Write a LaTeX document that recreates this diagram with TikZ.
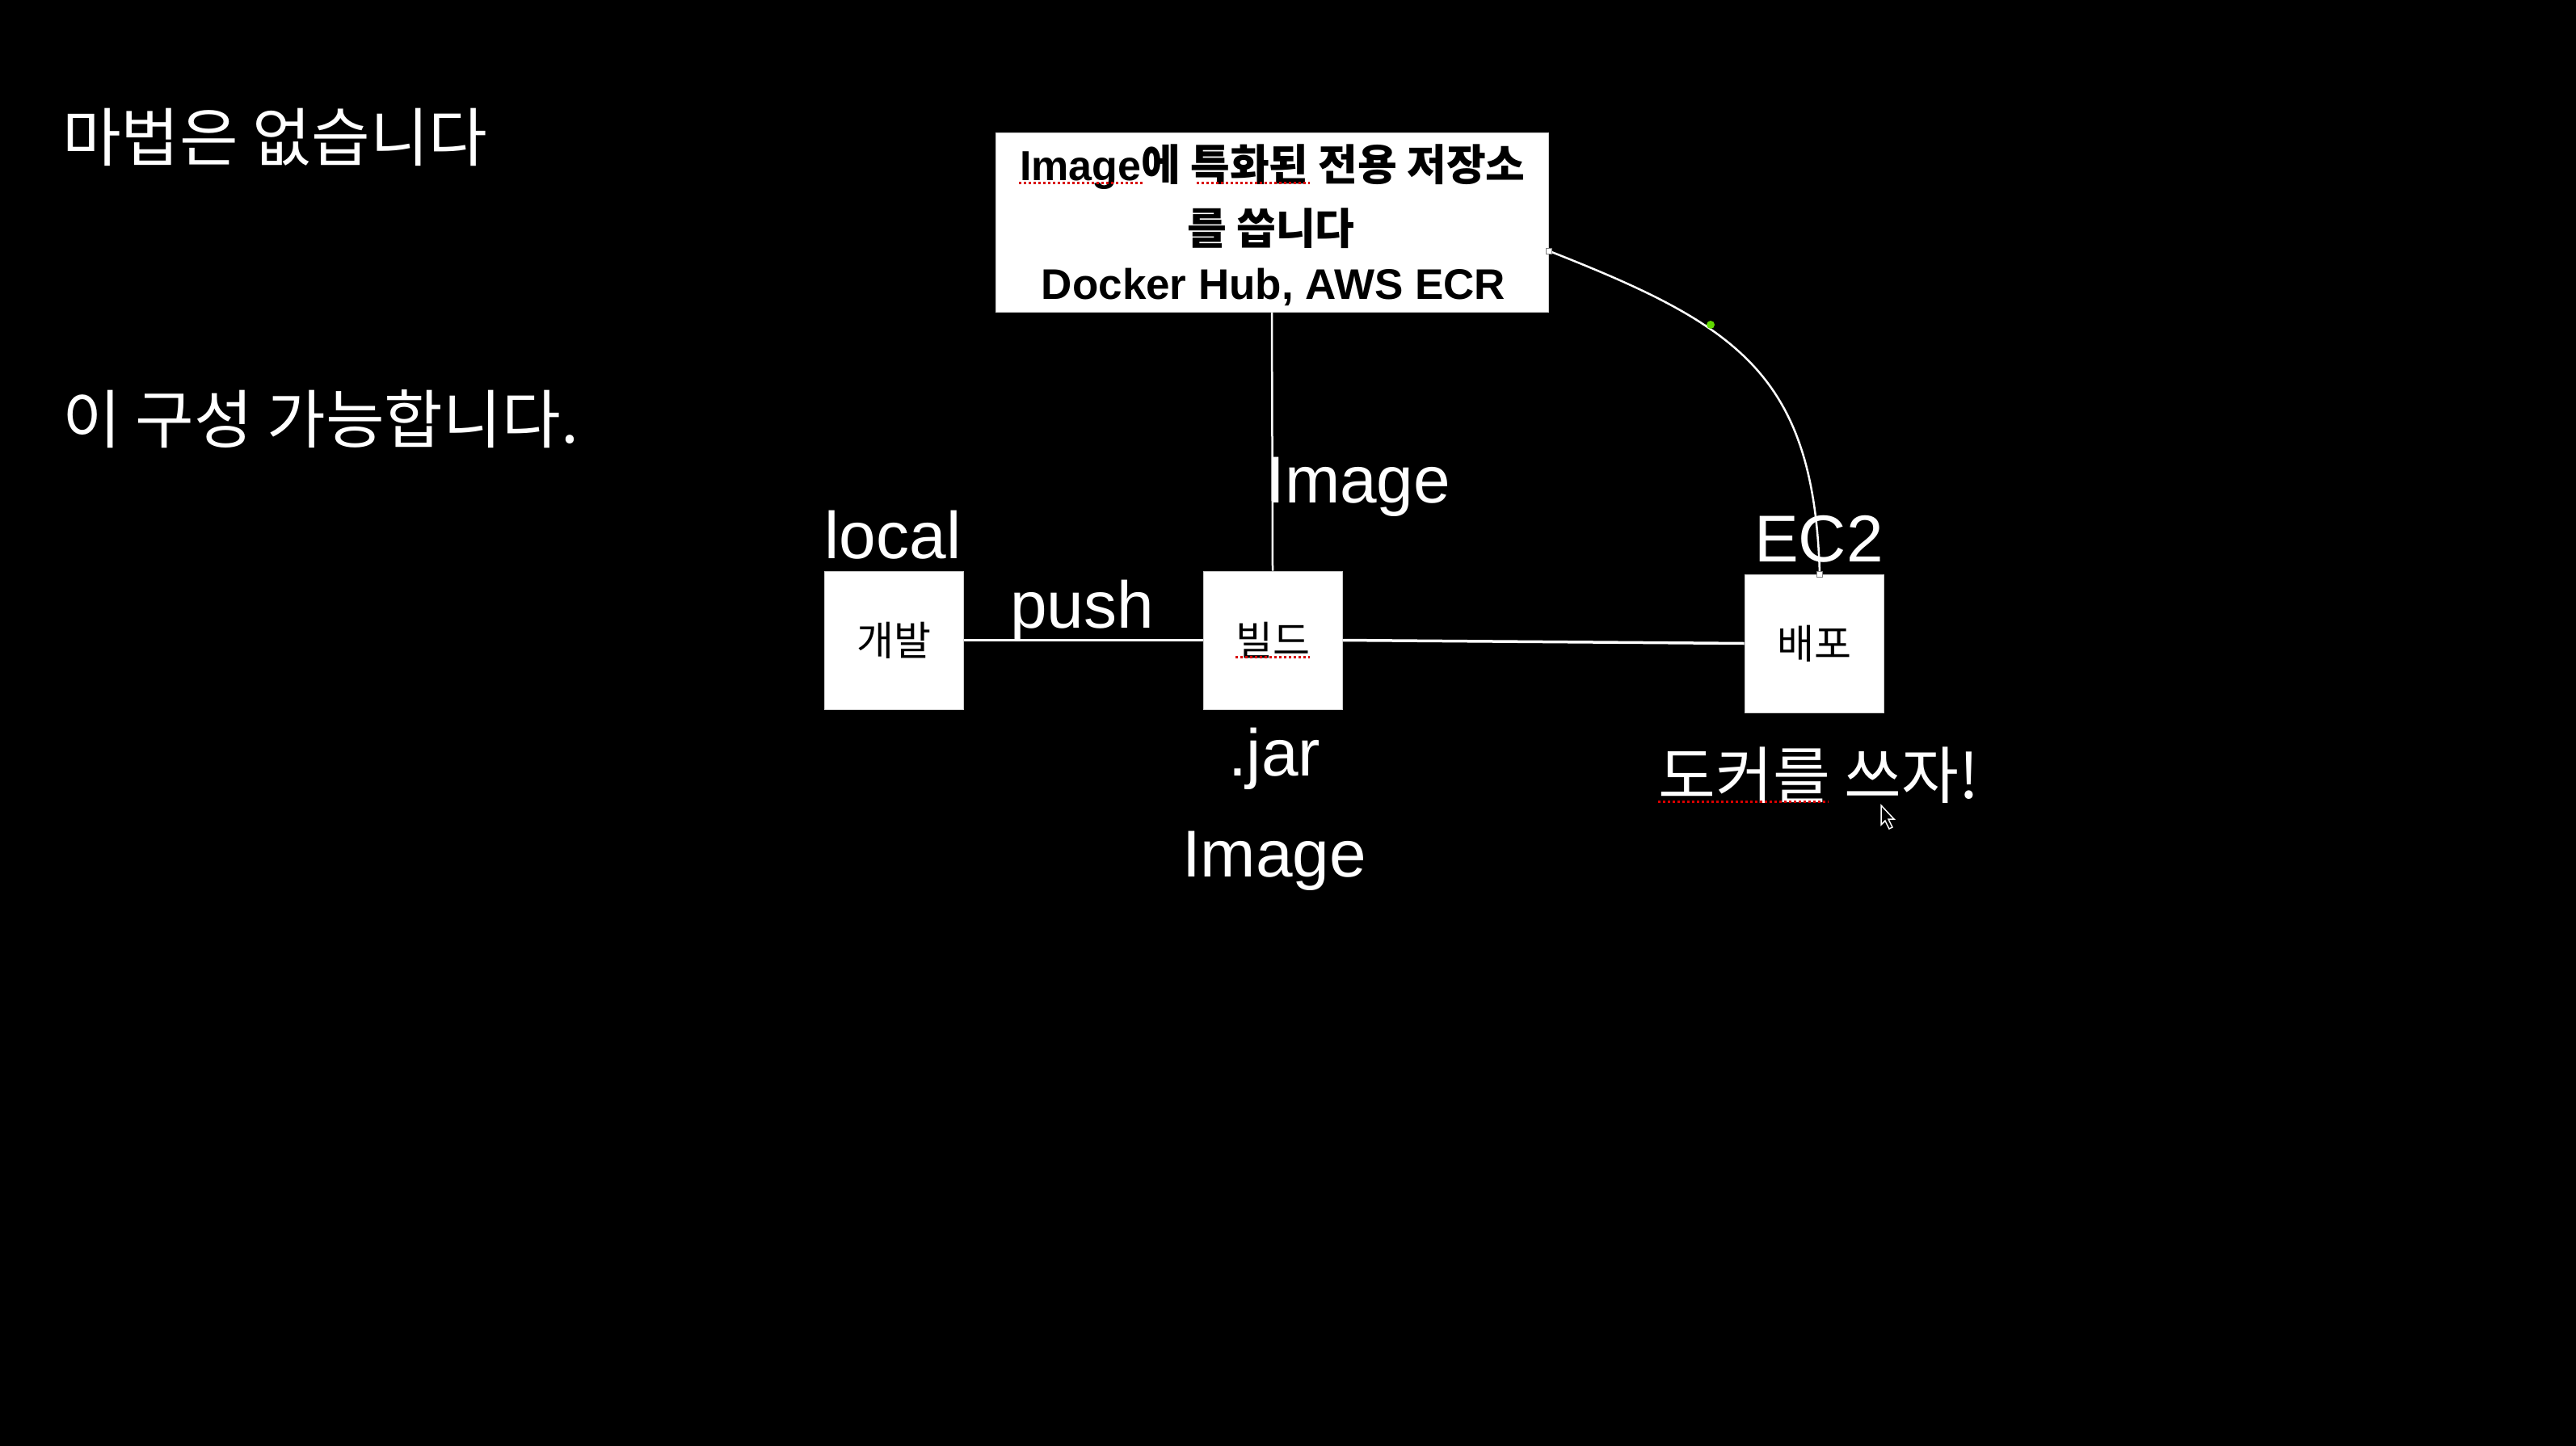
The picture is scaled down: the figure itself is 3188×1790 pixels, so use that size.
\documentclass[tikz,border=0pt]{standalone}
\usepackage{fontspec}
\setmainfont{Liberation Sans}
\newfontfamily\kr{Noto Sans CJK KR}
\newfontfamily\lat{Liberation Sans}
\begin{document}
\begin{tikzpicture}[x=1pt,y=-1pt,
  box/.style={draw=gray!40, line width=1pt, fill=white, minimum width=172pt, minimum height=171pt, inner sep=0pt,
    font=\kr\fontsize{50}{60}\selectfont, text=black},
  regbox/.style={draw=gray!40, line width=1pt, fill=white, minimum width=684pt, minimum height=221pt, inner sep=0pt},
  regtext/.style={inner sep=0pt, text=black},
  lbl/.style={text=white, inner sep=0pt, font=\lat\fontsize{82}{96}\selectfont},
  head/.style={text=white, inner sep=0pt, font=\kr\fontsize{79}{96}\selectfont},
  wire/.style={white, line width=3.5pt},
  thinwire/.style={white, line width=2.5pt},
  spell/.style={red!85!black, line width=3pt, dash pattern=on 3pt off 3pt},
  handle/.style={draw=gray, fill=white, line width=0.8pt, minimum size=7pt, inner sep=0pt}
]
\fill[black] (0,0) rectangle (3188,1790);
\useasboundingbox (0,0) rectangle (3188,1790);

% headings
\node[head, anchor=west] (h1) at (77,170) {마법은 없습니다};
\node[head, anchor=west] (h2) at (77,519) {이 구성 가능합니다.};

% registry
\node[regbox] (reg) at (1574,275.5) {};
\node[regtext, anchor=base] (r1) at (1575,223) {{\lat\bfseries\fontsize{52}{60}\selectfont Image}{\kr\bfseries\fontsize{53}{60}\selectfont 에 특화된 전용 저장소}};
\node[regtext] (r2) at (1573,283) {\kr\bfseries\fontsize{53}{60}\selectfont 를 씁니다};
\node[regtext, anchor=base] (r3) at (1576,370) {\lat\bfseries\fontsize{53}{60}\selectfont Docker Hub, AWS ECR};
\draw[spell] (1261,227) -- (1414,227);
\draw[spell] (1481,227) -- (1621,227);

% boxes
\node[box] (dev) at (1106,792.5) {개발};
\node[box] (build) at (1575,792.5) {빌드};
\node[box] (deploy) at (2245,796.5) {배포};
\draw[spell] (1529,813) -- (1621,813);

% connectors
\draw[wire] (dev.east) -- (build.west);
\draw[wire] (build.east) -- (deploy.west);
\draw[thinwire] (reg.south) -- (build.north);
\coordinate (arcstart) at ([yshift=-35pt]reg.east);
\coordinate (arcend) at ([xshift=7pt]deploy.north);
\draw[thinwire] (arcstart) .. controls (2149,402) and (2245,462) .. (arcend);
\node[handle] (hs) at (arcstart) {};
\node[handle] (he) at (arcend) {};
\fill[green!55!yellow!85!black] (2117,402) circle (5pt);

% labels
\node[lbl, anchor=base] (local) at (1105,691) {local};
\node[lbl, anchor=base] (push) at (1339,777) {push};
\node[lbl, anchor=base] (ec2) at (2251,695) {EC2};
\node[lbl, anchor=base west] (img1) at (1567,622) {Image};
\node[lbl, anchor=base] (jar) at (1577,960) {.jar};
\node[lbl, anchor=base] (img2) at (1577,1085) {Image};
\node[head, font=\kr\fontsize{77}{96}\selectfont] (docker) at (2251,960) {도커를 쓰자!};
\draw[spell] (2052,992) -- (2263,992);

% mouse pointer
\draw[white, fill=black, line width=1.5pt, line join=miter] (2328,997) -- ++(0,24) -- ++(5,-5) -- ++(5,10) -- ++(4,-2) -- ++(-5,-10) -- ++(7,0) -- cycle;
\end{tikzpicture}
\end{document}
